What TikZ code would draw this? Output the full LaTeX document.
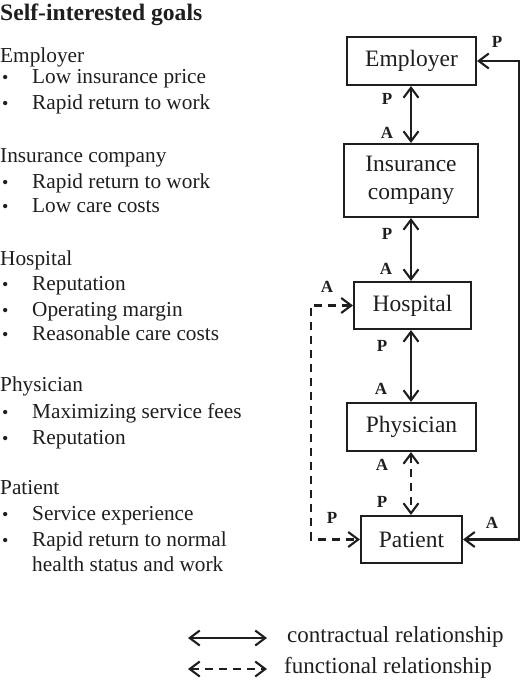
\documentclass[tikz,border=0pt]{standalone}
\usepackage{fontspec}
\setmainfont{Liberation Serif}
\usetikzlibrary{arrows.meta}

\definecolor{ink}{RGB}{30,30,30}

\tikzset{
  goal/.style={anchor=base west, inner sep=0pt, text=ink, font=\fontsize{21.3}{25}\selectfont},
  dot/.style={anchor=base west, inner sep=0pt, text=ink, font=\fontsize{18}{25}\selectfont},
  agent/.style={draw=ink, line width=2.1pt, inner sep=0pt, align=center, text=ink,
    font=\fontsize{23.5}{28}\selectfont},
  pa/.style={inner sep=0pt, text=ink, font=\bfseries\fontsize{17}{17}\selectfont},
  contract/.style={draw=ink, line width=2.1pt,
    {Straight Barb[length=10pt,width=15pt,line width=2.1pt]}-{Straight Barb[length=10pt,width=15pt,line width=2.1pt]}},
  functional/.style={contract, dash pattern=on 8pt off 6pt},
}

\begin{document}
\begin{tikzpicture}[x=1pt, y=-1pt]
        \useasboundingbox (0,0) rectangle (520,694);

        % goals
        \node[anchor=base west, inner sep=0pt, text=ink, font=\bfseries\fontsize{23.6}{28}\selectfont] (title) at (0,20) {Self-interested goals};

        \node[goal] (gEmp) at (0,62) {Employer};
        \node[dot] (b1) at (2,83.3) {•};   \node[goal] (t1) at (32,83.3) {Low insurance price};
        \node[dot] (b2) at (2,109.3) {•};  \node[goal] (t2) at (32,109.3) {Rapid return to work};

        \node[goal] (gIns) at (0,162.3) {Insurance company};
        \node[dot] (b3) at (2,188.3) {•};  \node[goal] (t3) at (32,188.3) {Rapid return to work};
        \node[dot] (b4) at (2,212.3) {•};  \node[goal] (t4) at (32,212.3) {Low care costs};

        \node[goal] (gHos) at (0,265) {Hospital};
        \node[dot] (b5) at (2,290) {•};    \node[goal] (t5) at (32,290) {Reputation};
        \node[dot] (b6) at (2,316.7) {•};  \node[goal] (t6) at (32,316.7) {Operating margin};
        \node[dot] (b7) at (2,340) {•};    \node[goal] (t7) at (32,340) {Reasonable care costs};

        \node[goal] (gPhy) at (0,391.7) {Physician};
        \node[dot] (b8) at (2,418.3) {•};  \node[goal] (t8) at (32,418.3) {Maximizing service fees};
        \node[dot] (b9) at (2,444) {•};    \node[goal] (t9) at (32,444) {Reputation};

        \node[goal] (gPat) at (0,494) {Patient};
        \node[dot] (b10) at (2,520) {•};   \node[goal] (t10) at (32,520) {Service experience};
        \node[dot] (b11) at (2,546) {•};   \node[goal] (t11) at (32,546) {Rapid return to normal};
        \node[goal] (t12) at (32,571.7) {health status and work};

        % agents
        \node[agent, minimum width=129pt, minimum height=48pt] (emp) at (411.5,61) {Employer};
        \node[agent, minimum width=134pt, minimum height=73pt] (ins) at (411,180.5) {Insurance\\company};
        \node[agent, minimum width=117pt, minimum height=47pt] (hos) at (412.5,305.5) {Hospital};
        \node[agent, minimum width=129pt, minimum height=48pt] (phy) at (411.5,427) {Physician};
        \node[agent, minimum width=101pt, minimum height=47pt] (pat) at (411.5,539.5) {Patient};

        \coordinate (rtop) at (519,61);
        \coordinate (ltop) at (311,305.5);

        % relationships
        \draw[contract] (emp.south -| 411,0) -- (ins.north -| 411,0);
        \draw[contract] (ins.south -| 411,0) -- (hos.north -| 411,0);
        \draw[contract] (hos.south -| 411,0) -- (phy.north -| 411,0);
        \draw[functional] (phy.south -| 411,0) -- (pat.north -| 411,0);
        \draw[contract] (emp.east) -- (rtop) |- (pat.east);
        \draw[functional] (hos.west) -- (ltop) |- (pat.west);

        % principal / agent labels
        \node[pa] (p1) at (387,99) {P};
        \node[pa] (a1) at (387,133) {A};
        \node[pa] (p2) at (387,234) {P};
        \node[pa] (a2) at (386,269) {A};
        \node[pa] (p3) at (382,346) {P};
        \node[pa] (a3) at (381,389) {A};
        \node[pa] (a4) at (382,465) {A};
        \node[pa] (p4) at (382,502) {P};
        \node[pa] (p5) at (497,42) {P};
        \node[pa] (a5) at (492,523) {A};
        \node[pa] (a6) at (327,287) {A};
        \node[pa] (p6) at (332,518) {P};

        % legend
        \coordinate (c1) at (188,638);
        \coordinate (c2) at (267,638);
        \coordinate (f1) at (188,669);
        \coordinate (f2) at (267,669);
        \draw[contract] (c1) -- (c2);
        \draw[functional] (f1) -- (f2);
        \node[anchor=base west, inner sep=0pt, text=ink, font=\fontsize{23}{28}\selectfont] (lc) at (287,642) {contractual relationship};
        \node[anchor=base west, inner sep=0pt, text=ink, font=\fontsize{23}{28}\selectfont] (lf) at (284,673) {functional relationship};
\end{tikzpicture}
\end{document}
